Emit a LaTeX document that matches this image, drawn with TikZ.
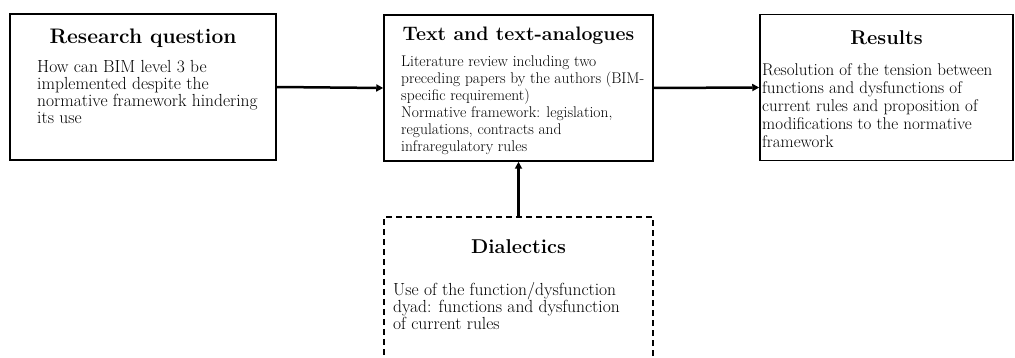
\documentclass[tikz,border=0pt]{standalone}
\usepackage{xcolor}
\usepackage{tikz}
\usetikzlibrary{arrows.meta,calc,positioning}
\definecolor{ink}{RGB}{0,0,0}
\tikzset{
  stage/.style={
    draw=ink, line width=1.5pt, inner sep=0pt,
    minimum height=146pt, minimum width=#1,
  },
  stage/.default=268pt,
  dialbox/.style={
    stage=269pt, dash pattern=on 6pt off 4pt, minimum height=160pt,
  },
  ttl/.style={
    anchor=base, font=\fontsize{20}{23}\selectfont\bfseries, text=ink, inner sep=0pt,
  },
  body/.style={
    anchor=north west, align=left, font=\fontsize{#1}{17}\selectfont, text=ink, inner sep=0pt,
  },
  body/.default=17.5,
  flow/.style={-{Triangle[length=7pt,width=7pt]}, line width=2.5pt, draw=ink},
}
\begin{document}
\begin{tikzpicture}[x=1pt,y=-1pt]
  \useasboundingbox (0,0) rectangle (1015,358);

  % Boxes
  \node[stage=266pt] (question) at (143,87) {};
  \node[stage=269pt] (texts) at (518.5,88) {};
  \node[stage=253pt] (results) at (886.5,87.5) {};
  \node[dialbox] (dialectics) at (518.5,297) {};

  % Titles
  \node[ttl, font=\fontsize{21}{24}\selectfont\bfseries] (questionttl) at (143,44) {Research question};
  \node[ttl, font=\fontsize{19.5}{22}\selectfont\bfseries] (textsttl) at (518.5,41) {Text and text-analogues};
  \node[ttl] (resultsttl) at (886.5,45) {Results};
  \node[ttl] (dialecticsttl) at (518.5,254) {Dialectics};

  % Contents
  \node[body] (questiontxt) at (37,60) {How can BIM level 3 be\\implemented despite the\\normative framework hindering\\its use};
  \node[body=15.5] (textstxt) at (401,56) {Literature review including two\\preceding papers by the authors (BIM-\\specific requirement)\\Normative framework: legislation,\\regulations, contracts and\\infraregulatory rules};
  \node[body, font=\fontsize{17}{18}\selectfont] (resultstxt) at (762,63) {Resolution of the tension between\\functions and dysfunctions of\\current rules and proposition of\\modifications to the normative\\framework};
  \node[body] (dialecticstxt) at (393,282) {Use of the function/dysfunction\\dyad: functions and dysfunction\\of current rules};

  % Arrows
  \draw[flow] (question.east) -- (texts.west);
  \draw[flow] (texts.east) -- (results.west);
  \draw[flow] (dialectics.north) -- (texts.south);
\end{tikzpicture}
\end{document}
